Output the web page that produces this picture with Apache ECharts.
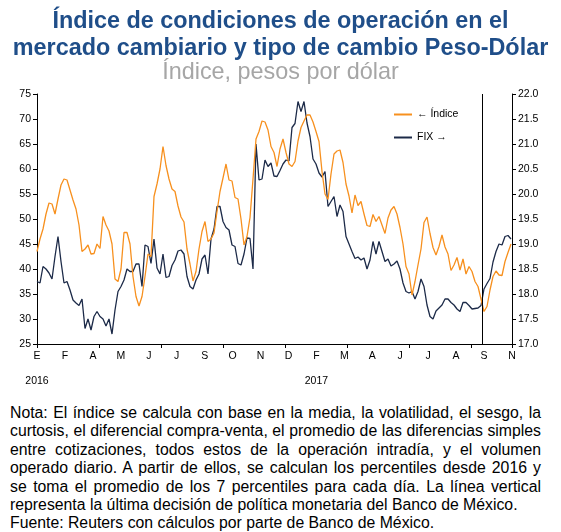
<!DOCTYPE html>
<html>
<head>
<meta charset="utf-8">
<script src="https://cdn.jsdelivr.net/npm/echarts@6/dist/echarts.min.js"></script>
<style>
  body { margin: 0; background: #fff; }
  #main { position: absolute; left: 0; top: 0; width: 561px; height: 392px; }
  #nota { position: absolute; left: 10px; top: 404px; width: 531px;
          font-family: "Liberation Sans", Arial, sans-serif; font-size: 15.8px;
          line-height: 18.4px; color: #000; }
  #nota div { white-space: nowrap; text-align: justify; text-align-last: justify; }
  #nota div.fin { text-align-last: left; }
</style>
</head>
<body>
<div id="main"></div>
<div id="nota">
  <div>Nota: El índice se calcula con base en la media, la volatilidad, el sesgo, la</div>
  <div>curtosis, el diferencial compra-venta, el promedio de las diferencias simples</div>
  <div>entre cotizaciones, todos estos de la operación intradía, y el volumen</div>
  <div>operado diario. A partir de ellos, se calculan los percentiles desde 2016 y</div>
  <div>se toma el promedio de los 7 percentiles para cada día. La línea vertical</div>
  <div class="fin">representa la última decisión de política monetaria del Banco de México.</div>
  <div class="fin">Fuente: Reuters con cálculos por parte de Banco de México.</div>
</div>
<script>
// etiquetas del eje (cada ~28 días hábiles)
var meses = ['E','F','A','M','J','J','S','O','N','D','F','M','A','J','J','A','S','N'];
var anios = ['2016','','','','','','','','','','2017','','','','','','',''];

// una observación cada 3 días hábiles, desde ene-2016
var paso = 3;
var ultimaDecision = 445; // día hábil de la última decisión de Banxico

// Índice (eje izquierdo)
var indice = [
  43.5, 46, 48, 51, 53.2, 53, 51, 54, 56.8, 58, 57.8, 55.8, 53.8, 52, 48.8, 43.5, 44, 44.8, 43, 43.1,
  45, 44.1, 50.5, 48.8, 47.6, 45, 38, 37.5, 40, 47.3, 47.3, 45, 38.5, 34.5, 32.6, 34.5, 38.5, 43, 42.5, 54.5,
  57, 60, 64.5, 60.7, 58, 56, 55.5, 52.6, 50.4, 49.4, 44, 41, 37.6, 39.5, 44, 47.5, 49.5, 45.5, 46, 47.2,
  51.5, 55.5, 58.2, 61, 57.8, 57.6, 54.3, 54, 50, 44.8, 46.5, 50.3, 58, 66, 67.5, 69.6, 69.4, 67.8, 64.5, 63.3,
  60.5, 64, 66, 63.3, 61, 60.5, 61.5, 65.6, 68.3, 69.6, 70.8, 70.8, 69.4, 67.5, 65.5, 59.5, 55, 53.9, 59, 63,
  63.6, 63.8, 61.3, 57, 54.6, 51.2, 54.8, 52.7, 53.5, 51, 48.7, 48.5, 50.9, 49.5, 50.5, 48.8, 47.1, 50.2, 51.8, 52.5,
  51, 48.3, 45, 40.5, 39, 34.8, 37.5, 40.8, 44, 49.3, 50.4, 47.1, 44.3, 42.8, 44.5, 46.8, 44.4, 43, 39.7, 40.8,
  42.3, 39.8, 42, 39, 40.5, 39.5, 37.5, 36.5, 34, 31.5, 32.5, 35.8, 38.5, 39.6, 38.8, 38.7, 41.5, 43.3, 45
];

// FIX, pesos por dólar (eje derecho)
var fix = [
  18.25, 18.22, 18.55, 18.5, 18.42, 18.3, 18.75, 19.15, 18.65, 18.22, 18.25, 18.08, 17.88, 17.82, 17.77, 17.9, 17.31, 17.5, 17.28, 17.55,
  17.65, 17.55, 17.5, 17.36, 17.5, 17.2, 17.68, 18.05, 18.15, 18.28, 18.5, 18.45, 18.45, 18.6, 18.6, 18.15, 18.98, 18.95, 18.61, 19.1,
  18.52, 18.4, 18.8, 18.33, 18.35, 18.57, 18.68, 18.86, 18.88, 18.8, 18.35, 18.15, 18.1, 18.28, 18.4, 18.7, 18.78, 18.4, 19.1, 19.3,
  19.75, 19.75, 19.45, 19.33, 19.28, 18.98, 18.95, 18.61, 18.58, 18.8, 19.12, 19.11, 18.5, 21.0, 20.28, 20.3, 20.68, 20.55, 20.62, 20.36,
  20.35, 20.47, 20.6, 20.68, 20.66, 21.33, 21.41, 21.85, 21.65, 21.85, 21.42, 21.15, 20.7, 20.6, 20.42, 20.34, 20.45, 19.75, 19.85, 19.95,
  19.55, 19.78, 19.65, 19.15, 19.0, 18.85, 18.71, 18.74, 18.68, 18.72, 18.5, 18.68, 19.05, 18.8, 19.05, 18.85, 18.65, 18.7, 18.56, 18.6,
  18.66, 18.5, 18.22, 18.05, 18.02, 18.05, 17.9, 18.05, 18.3, 18.15, 17.78, 17.55, 17.5, 17.66, 17.72, 17.78, 17.9, 17.9, 17.83, 17.78,
  17.7, 17.65, 17.83, 17.83, 17.77, 17.7, 17.71, 17.72, 17.77, 18.1, 18.21, 18.31, 18.64, 18.85, 19.0, 18.98, 19.15, 19.17, 19.1
];

var fuente = '"Liberation Sans", Arial, sans-serif';
var naranja = '#f7901e';
var azul = '#1c2a48';

var myChart = echarts.init(document.getElementById('main'));
var option = {
  animation: false,
  textStyle: { fontFamily: fuente },
  title: [
    {
      text: 'Índice de condiciones de operación en el\nmercado cambiario y tipo de cambio Peso-Dólar',
      left: 'center', top: 3,
      textStyle: { fontSize: 23.4, fontWeight: 'bold', color: '#1f4e89', lineHeight: 27, fontFamily: fuente }
    },
    {
      text: 'Índice, pesos por dólar',
      left: 'center', top: 56,
      textStyle: { fontSize: 23.4, fontWeight: 'normal', color: '#a6a6a6', fontFamily: fuente }
    }
  ],
  legend: {
    orient: 'vertical',
    left: 389, top: 104,
    icon: 'rect',
    itemWidth: 18, itemHeight: 2, itemGap: 12,
    textStyle: { fontSize: 10.5, color: '#000', fontFamily: fuente },
    data: ['← Índice', 'FIX →']
  },
  grid: { left: 37, right: 49, top: 94, height: 250 },
  xAxis: [
    {
      type: 'value', min: 0, max: 475, interval: 62,
      axisLine: { lineStyle: { color: '#000', width: 1 } },
      axisTick: { show: true, length: 4, lineStyle: { color: '#000' } },
      axisLabel: { show: false },
      splitLine: { show: false }
    },
    {
      type: 'category', data: meses, boundaryGap: false, position: 'bottom',
      axisLine: { show: false }, axisTick: { show: false },
      axisLabel: { interval: 0, margin: 7, fontSize: 10.5, color: '#000' }
    },
    {
      type: 'category', data: anios, boundaryGap: false, position: 'bottom', offset: 25,
      axisLine: { show: false }, axisTick: { show: false },
      axisLabel: { interval: 0, margin: 7, fontSize: 10.5, color: '#000' }
    }
  ],
  yAxis: [
    {
      type: 'value', min: 25, max: 75, interval: 5,
      axisLine: { show: true, lineStyle: { color: '#000' } },
      axisTick: { show: true, length: 4, lineStyle: { color: '#000' } },
      axisLabel: { margin: 6, fontSize: 10.5, color: '#000' },
      splitLine: { show: false }
    },
    {
      type: 'value', min: 17, max: 22, interval: 0.5, position: 'right',
      axisLine: { show: true, lineStyle: { color: '#000' } },
      axisTick: { show: true, length: 4, lineStyle: { color: '#000' } },
      axisLabel: { margin: 6, fontSize: 10.5, color: '#000',
        formatter: function (v) { return v.toFixed(1); } },
      splitLine: { show: false }
    }
  ],
  series: [
    {
      name: '← Índice', type: 'line', xAxisIndex: 0, yAxisIndex: 0,
      symbol: 'none',
      lineStyle: { color: naranja, width: 1.3 },
      itemStyle: { color: naranja },
      data: indice.map(function (v, i) { return [i * paso, v]; }),
      markLine: {
        silent: true, symbol: 'none',
        label: { show: false },
        lineStyle: { color: '#000', width: 1, type: 'solid' },
        data: [{ xAxis: ultimaDecision }]
      },
      z: 3
    },
    {
      name: 'FIX →', type: 'line', xAxisIndex: 0, yAxisIndex: 1,
      symbol: 'none',
      lineStyle: { color: azul, width: 1.3 },
      itemStyle: { color: azul },
      data: fix.map(function (v, i) { return [i * paso, v]; }),
      z: 2
    }
  ]
};
myChart.setOption(option);
</script>
</body>
</html>
